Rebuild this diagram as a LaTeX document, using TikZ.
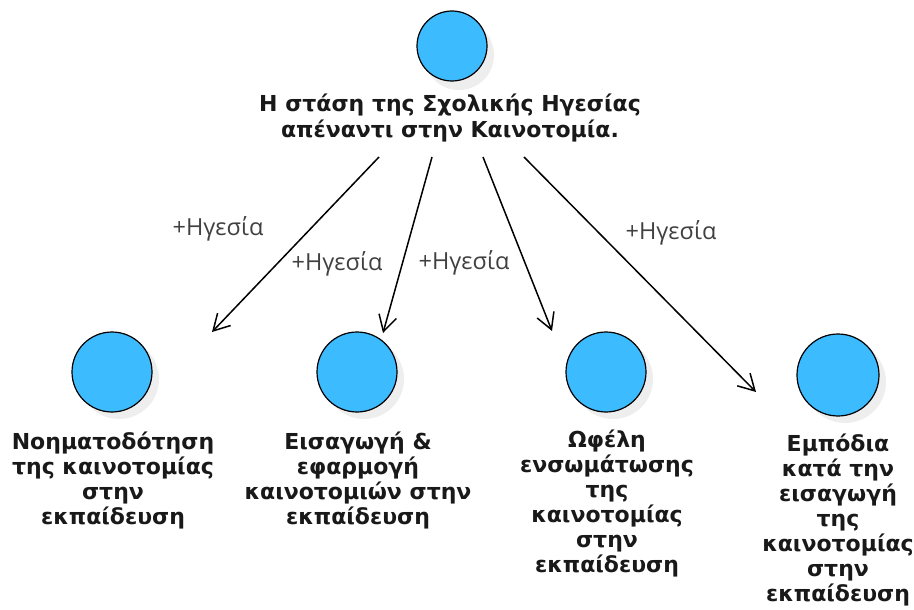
\documentclass[tikz,border=0pt]{standalone}
\usepackage{fontspec}
\setmainfont{DejaVu Sans}
\newfontfamily\labelfont{Open Sans}
\usetikzlibrary{arrows.meta}
\definecolor{bubble}{HTML}{3DBBFF}
\definecolor{shade}{HTML}{EEEEEE}
\definecolor{labelgray}{HTML}{404040}
\tikzset{
  bubblebox/.style={circle, draw=black, line width=1.2pt, fill=bubble, minimum size=#1, inner sep=0pt},
  bubblebox/.default=80pt,
  shadowdisc/.style={circle, fill=shade, minimum size=#1, inner sep=0pt},
  shadowdisc/.default=80pt,
  % multi-line captions: the base anchor sits on the last line's baseline
  caption/.style={align=center, font=\fontsize{22}{25}\selectfont\bfseries, text=black!90, inner sep=0pt, anchor=base},
  link/.style={draw=black, line width=1.5pt, -{Straight Barb[length=16pt, width=18pt, line width=1.5pt]}},
  linklabel/.style={font=\labelfont\fontsize{23.5}{28}\selectfont, text=labelgray, inner sep=0pt}
}
\begin{document}
\begin{tikzpicture}[x=1pt, y=-1pt]
  \useasboundingbox (0,0) rectangle (914,610);
  \fill[white] (0,0) rectangle (914,610);

  % soft drop shadows behind the discs
  \node[shadowdisc=70pt] at (459,55) {};
  \node[shadowdisc] at (119,379) {};
  \node[shadowdisc] at (364,379) {};
  \node[shadowdisc] at (613,379) {};
  \node[shadowdisc=82pt] at (845,382) {};

  % discs
  \node[bubblebox=70pt] (top) at (452,46) {};
  \node[bubblebox] (d1) at (112,372) {};
  \node[bubblebox] (d2) at (357,372) {};
  \node[bubblebox] (d3) at (606,372) {};
  \node[bubblebox=82pt] (d4) at (838,375) {};

  % captions
  \node[caption] (ttop) at (450,137) {Η στάση της Σχολικής Ηγεσίας\\απέναντι στην Καινοτομία.};
  \node[caption] (t1) at (113,524) {Νοηματοδότηση\\της καινοτομίας\\στην\\εκπαίδευση};
  \node[caption] (t2) at (358,524) {Εισαγωγή \&\\εφαρμογή\\καινοτομιών στην\\εκπαίδευση};
  \node[caption] (t3) at (607,572) {Ωφέλη\\ενσωμάτωσης\\της\\καινοτομίας\\στην\\εκπαίδευση};
  \node[caption] (t4) at (838,601) {Εμπόδια\\κατά την\\εισαγωγή\\της\\καινοτομίας\\στην\\εκπαίδευση};

  % connector ends
  \coordinate (s1) at (379,157);
  \coordinate (s2) at (432,157);
  \coordinate (s3) at (483,157);
  \coordinate (s4) at (524,157);
  \coordinate (e1) at (212,332);
  \coordinate (e2) at (383,333);
  \coordinate (e3) at (552,331);
  \coordinate (e4) at (756,392);

  \draw[link] (s1) -- (e1);
  \draw[link] (s2) -- (e2);
  \draw[link] (s3) -- (e3);
  \draw[link] (s4) -- (e4);

  % connector labels
  \node[linklabel] (l1) at (218,229) {+Ηγεσία};
  \node[linklabel] (l2) at (337,264) {+Ηγεσία};
  \node[linklabel] (l3) at (464,263) {+Ηγεσία};
  \node[linklabel] (l4) at (671,233) {+Ηγεσία};
\end{tikzpicture}
\end{document}
